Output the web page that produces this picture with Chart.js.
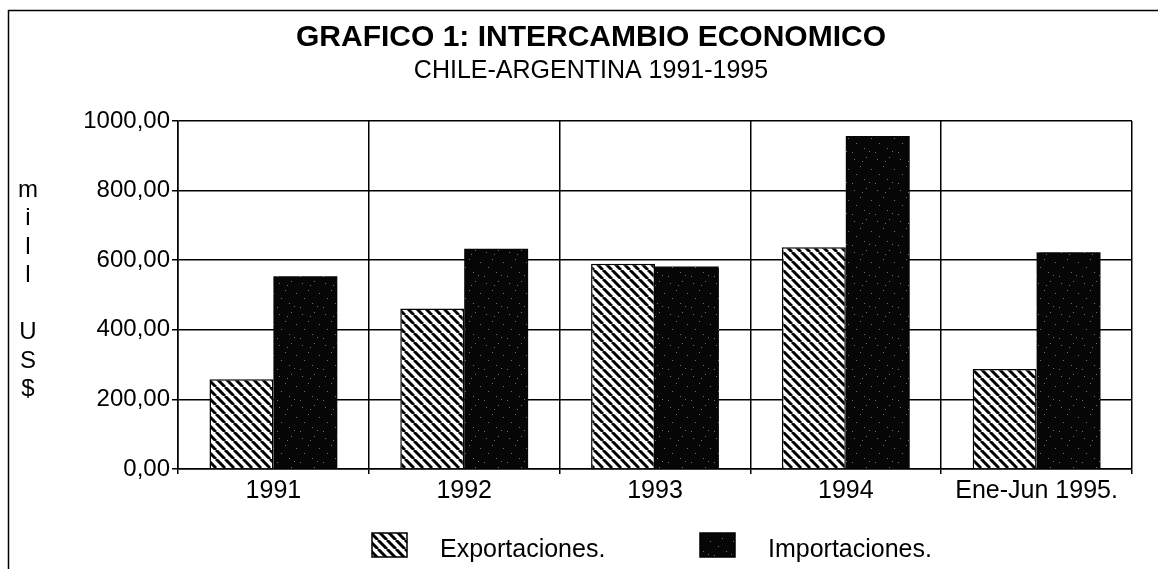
<!DOCTYPE html>
<html lang="es">
<head>
<meta charset="UTF-8">
<title>Intercambio economico Chile-Argentina</title>
<script src="https://cdn.jsdelivr.net/npm/chart.js"></script>
<style>
  html, body { margin: 0; padding: 0; background: #fff; }
  #wrap { position: relative; width: 1158px; height: 569px; }
</style>
</head>
<body>
<div id="wrap"><canvas id="grafico"></canvas></div>
<script>
const categorias = ['1991', '1992', '1993', '1994', 'Ene-Jun 1995.'];
const exportaciones = [258, 461, 590, 637, 287];
const importaciones = [554, 633, 582, 957, 623];
const yTicks = ['0,00', '200,00', '400,00', '600,00', '800,00', '1000,00'];
const ejeY = ['m', 'i', 'l', 'l', '', 'U', 'S', '$'];

const FUENTE = '"Liberation Sans", Arial, sans-serif';
Chart.defaults.font.family = FUENTE;
Chart.defaults.color = '#000';

// trama rayada "\\\" para exportaciones
function rayado() {
  const c = document.createElement('canvas');
  c.width = 9; c.height = 9;
  const g = c.getContext('2d');
  g.fillStyle = '#fff';
  g.fillRect(0, 0, 9, 9);
  g.strokeStyle = '#000';
  g.lineWidth = 3;
  g.beginPath();
  for (let k = -9; k <= 9; k += 9) {
    g.moveTo(k, 0);
    g.lineTo(k + 9, 9);
  }
  g.stroke();
  return g.createPattern(c, 'repeat');
}

// negro con algunos puntos grises (fotocopia)
function moteado() {
  const c = document.createElement('canvas');
  c.width = 23; c.height = 31;
  const g = c.getContext('2d');
  g.fillStyle = '#060606';
  g.fillRect(0, 0, 23, 31);
  g.fillStyle = '#707070';
  [[3, 4], [15, 2], [9, 11], [20, 14], [5, 19], [13, 24], [1, 28], [18, 27], [11, 6]]
    .forEach(([x, y]) => g.fillRect(x, y, 1, 1));
  return g.createPattern(c, 'repeat');
}

const decorado = {
  id: 'decorado',
  beforeDraw(chart) {
    const ctx = chart.ctx;
    ctx.save();
    ctx.strokeStyle = '#000';
    ctx.lineWidth = 1.5;
    ctx.beginPath();
    ctx.moveTo(8.5, chart.height);
    ctx.lineTo(8.5, 10.5);
    ctx.lineTo(chart.width, 10.5);
    ctx.stroke();
    ctx.restore();
  },
  afterDraw(chart) {
    const ctx = chart.ctx;
    ctx.save();
    ctx.fillStyle = '#000';
    ctx.font = '24px ' + FUENTE;
    ctx.textAlign = 'center';
    ctx.textBaseline = 'middle';
    ejeY.forEach((t, i) => ctx.fillText(t, 28, 190 + i * 28.5));

    // leyenda
    const pos = [{ x: 372, tx: 440 }, { x: 700, tx: 768 }];
    chart.data.datasets.forEach((ds, i) => {
      const p = pos[i];
      ctx.fillStyle = ds.backgroundColor;
      ctx.fillRect(p.x, 533, 35, 24);
      ctx.strokeStyle = '#000';
      ctx.lineWidth = 1.5;
      ctx.strokeRect(p.x, 533, 35, 24);
      ctx.fillStyle = '#000';
      ctx.textAlign = 'left';
      ctx.textBaseline = 'alphabetic';
      ctx.font = '25px ' + FUENTE;
      ctx.fillText(ds.label, p.tx, 557);
    });
    ctx.restore();
  }
};

new Chart(document.getElementById('grafico'), {
  type: 'bar',
  data: {
    labels: categorias,
    datasets: [
      { label: 'Exportaciones.', data: exportaciones, backgroundColor: rayado(), borderColor: '#000', borderWidth: 1.5 },
      { label: 'Importaciones.', data: importaciones, backgroundColor: moteado(), borderColor: '#000', borderWidth: 0 }
    ]
  },
  options: {
    responsive: true,
    maintainAspectRatio: false,
    animation: false,
    layout: { padding: { left: 50, right: 26, top: 0, bottom: 0 } },
    datasets: { bar: { categoryPercentage: 0.67, barPercentage: 1 } },
    plugins: {
      legend: { display: false },
      tooltip: { enabled: false },
      title: {
        display: true,
        text: 'GRAFICO 1: INTERCAMBIO ECONOMICO',
        color: '#000',
        font: { size: 30, weight: 'bold' },
        padding: { top: 20, bottom: 0 }
      },
      subtitle: {
        display: true,
        text: 'CHILE-ARGENTINA 1991-1995',
        color: '#000',
        font: { size: 25 },
        padding: { top: 0, bottom: 35 }
      }
    },
    scales: {
      x: {
        grid: { color: '#000', lineWidth: 1.5, tickLength: 5, offset: true },
        border: { color: '#000', width: 1.5 },
        ticks: { color: '#000', font: { size: 25 }, padding: 2, maxRotation: 0 },
        afterFit(s) { s.height = 100; }
      },
      y: {
        min: 0,
        max: 1000,
        grid: { color: '#000', lineWidth: 1.5, tickLength: 6 },
        border: { color: '#000', width: 1.5 },
        ticks: {
          stepSize: 200,
          color: '#000',
          font: { size: 24 },
          padding: 2,
          callback: (v, i) => yTicks[i]
        },
        afterFit(s) { s.width = 128; }
      }
    }
  },
  plugins: [decorado]
});
</script>
</body>
</html>
